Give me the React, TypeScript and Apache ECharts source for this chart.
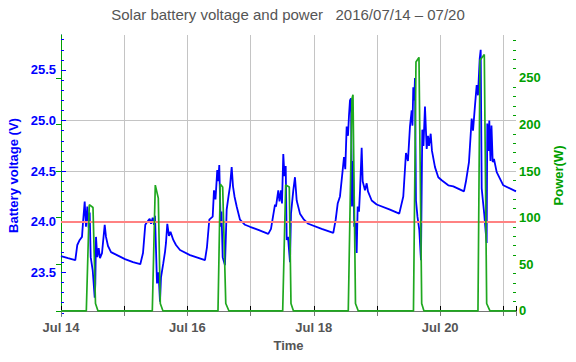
import React, { useEffect, useRef } from 'react';
import * as echarts from 'echarts';

const titleText = 'Solar battery voltage and power   2016/07/14 – 07/20';
const dayLabels = ['Jul 14', 'Jul 15', 'Jul 16', 'Jul 17', 'Jul 18', 'Jul 19', 'Jul 20', 'Jul 21'];
const shownDayLabels = ['Jul 14', 'Jul 16', 'Jul 18', 'Jul 20'];
const voltageTicks = [23.5, 24.0, 24.5, 25.0, 25.5];
const voltageMinorTicks = [23.1, 23.2, 23.3, 23.4, 23.6, 23.7, 23.8, 23.9, 24.1, 24.2, 24.3, 24.4, 24.6, 24.7, 24.8, 24.9, 25.1, 25.2, 25.3, 25.4, 25.6, 25.7, 25.8];
const powerTicks = [0, 50, 100, 150, 200, 250];
const powerMinorTicks = [10, 20, 30, 40, 60, 70, 80, 90, 110, 120, 130, 140, 160, 170, 180, 190, 210, 220, 230, 240, 260, 270, 280, 290];
const thresholdVoltage = 24.0;
const voltageRange = [23.068, 25.846];
const powerRange = [-5.4, 296];
const hourRange = [0, 172.8];

// hours since 2016-07-14 00:00
const voltageHours = [
  0.0, 2.66, 5.43, 6.19, 7.10, 7.97, 8.35, 9.00, 9.49, 9.99, 10.52, 10.90, 11.28, 12.04, 12.80, 13.03, 13.29, 13.78, 14.32, 14.81, 15.57, 16.60, 17.09, 17.85, 18.99, 21.27, 24.30, 27.34, 30.11,
  31.14, 32.01, 32.77, 33.68, 34.18, 34.82, 35.32, 35.70, 36.46, 37.03, 37.60, 37.98, 38.85, 39.49, 39.87, 40.37, 41.01, 41.58, 42.65, 43.67, 45.19, 48.99, 54.68,
  55.44, 56.32, 57.61, 58.10, 58.67, 59.35, 59.73, 60.11, 60.65, 60.95, 61.40, 62.28, 62.92, 63.61, 64.18, 64.82, 65.32, 65.89, 66.72, 67.98, 69.87, 71.77, 74.93, 78.72,
  79.75, 80.51, 81.27, 81.65, 82.52, 82.98, 83.55, 83.93, 84.42, 84.88, 85.34, 85.72, 86.21, 86.97, 87.35, 88.22, 88.86, 89.51, 90.76, 92.28, 93.91, 99.00, 103.41,
  104.32, 105.08, 105.95, 106.98, 107.47, 107.96, 108.49, 108.99, 109.37, 109.75, 110.13, 110.51, 110.89, 111.38, 111.84, 112.29, 112.67, 113.17, 113.55, 114.19, 114.57, 115.06, 115.44, 116.09, 116.58, 117.99, 119.89, 124.94, 128.47,
  129.99, 131.01, 131.77, 132.53, 133.18, 133.48, 133.79, 134.17, 134.43, 134.81, 135.38, 136.07, 136.71, 137.21, 137.66, 138.23, 138.88, 139.37, 139.75, 140.40, 140.89, 142.03, 143.28, 144.57, 147.08, 148.98, 153.04,
  153.80, 154.94, 155.97, 156.47, 157.23, 157.87, 158.36, 159.01, 159.39, 159.77, 160.26, 160.76, 161.29, 161.66, 161.89, 162.35, 162.66, 163.11, 163.49, 163.95, 164.44, 165.47, 167.97, 172.79,
];
const voltageValues = [
  23.66, 23.64, 23.62, 23.77, 23.82, 23.85, 23.99, 24.20, 23.95, 24.15, 23.94, 24.09, 23.65, 23.52, 23.25, 23.39, 23.85, 23.65, 23.74, 23.64, 23.69, 23.97, 23.85, 23.76, 23.70, 23.67, 23.63, 23.60, 23.58,
  23.69, 23.97, 24.00, 24.03, 23.98, 24.04, 23.97, 24.06, 23.39, 23.50, 23.21, 23.45, 23.59, 23.70, 23.79, 23.98, 23.86, 23.90, 23.82, 23.77, 23.72, 23.67, 23.62,
  23.75, 24.02, 24.05, 24.31, 24.22, 24.51, 24.40, 24.56, 23.95, 24.10, 23.65, 23.57, 24.12, 24.25, 24.35, 24.54, 24.35, 24.25, 24.15, 24.02, 23.97, 23.95, 23.92, 23.88,
  23.93, 24.05, 24.17, 24.15, 24.31, 24.20, 24.31, 24.18, 24.67, 24.45, 24.55, 23.82, 23.85, 23.60, 24.08, 24.31, 24.44, 24.21, 24.08, 24.02, 23.98, 23.93, 23.89,
  24.02, 24.18, 24.25, 24.51, 24.64, 24.52, 24.94, 24.85, 25.05, 25.20, 25.22, 24.15, 24.60, 23.95, 24.00, 23.69, 24.15, 24.10, 24.30, 24.73, 24.40, 24.35, 24.31, 24.38, 24.30, 24.21, 24.17, 24.12, 24.08,
  24.25, 24.68, 24.60, 24.94, 25.10, 24.95, 25.33, 25.20, 25.42, 24.21, 24.05, 23.92, 23.62, 24.91, 24.75, 25.14, 24.72, 24.85, 24.75, 24.87, 24.70, 24.54, 24.44, 24.41, 24.36, 24.35, 24.30,
  24.40, 24.59, 25.02, 24.90, 25.15, 25.35, 25.25, 25.61, 25.70, 24.33, 24.20, 24.07, 23.90, 23.79, 24.97, 24.70, 25.00, 24.60, 24.95, 24.59, 24.62, 24.49, 24.36, 24.30,
];
const powerHours = [
  0, 9.61, 10.75, 12.15, 13.10, 14.05,
  34.67, 35.81, 36.95, 37.71, 38.73,
  59.62, 60.49, 61.40, 62.58, 63.80,
  84.19, 85.33, 86.70, 87.34, 88.29,
  109.10, 110.51, 110.89, 111.84, 112.90,
  133.86, 134.81, 135.95, 136.98, 137.85,
  158.36, 159.12, 160.76, 161.66, 162.91,
  172.79,
];
const powerValues = [
  0, 0, 114, 111, 8, 0,
  0, 135, 121, 8, 0,
  0, 136, 133, 8, 0,
  0, 135, 133, 8, 0,
  0, 228, 232, 8, 0,
  0, 267, 272, 8, 0,
  0, 269, 275, 8, 0,
  0,
];

const FONT = '"Liberation Sans", Arial, Helvetica, sans-serif';
const BLUE = '#0000ff';
const GREEN_LINE = '#1fa81f';
const GREEN_TEXT = '#00a000';
const GRAY_TEXT = '#555555';

export default function App() {
  const ref = useRef<HTMLDivElement>(null);
  useEffect(() => {
    document.body.style.margin = '0';
    if (!ref.current) return;
    const chart = echarts.init(ref.current, undefined, { renderer: 'svg' });
    const voltageData = voltageHours.map((h, i) => [h, voltageValues[i]]);
    const powerData = powerHours.map((h, i) => [h, powerValues[i]]);
    const option: any = {
      animation: false,
      backgroundColor: '#ffffff',
      title: {
        text: titleText,
        left: 'center',
        top: 2,
        textStyle: { fontFamily: FONT, fontSize: 15, fontWeight: 'normal', color: GRAY_TEXT },
      },
      grid: { left: 61, right: 60, top: 35, bottom: 46, containLabel: false, outerBoundsMode: 'none' },
      xAxis: [
        {
          type: 'value',
          min: hourRange[0],
          max: hourRange[1],
          interval: 24,
          position: 'bottom',
          name: 'Time',
          nameLocation: 'middle',
          nameGap: 22,
          nameTextStyle: { fontFamily: FONT, fontSize: 13, fontWeight: 'bold', color: GRAY_TEXT },
          axisLine: { show: true, lineStyle: { color: '#000000', width: 1 } },
          axisTick: { show: true, inside: true, length: 5, lineStyle: { color: '#000000' } },
          axisLabel: {
            margin: 5,
            fontFamily: FONT,
            fontSize: 13,
            fontWeight: 'bold',
            color: GRAY_TEXT,
            showMinLabel: true,
            formatter: (v: number) => {
              const idx = Math.round(v / 24);
              if (Math.abs(v - idx * 24) > 0.01) return '';
              const name = dayLabels[idx];
              return shownDayLabels.indexOf(name) >= 0 ? name : '';
            },
          },
          splitLine: { show: true, showMinLine: false, showMaxLine: false, lineStyle: { color: '#c4c4c4', width: 1 } },
        },
        {
          type: 'value',
          min: hourRange[0],
          max: hourRange[1],
          interval: 24,
          position: 'top',
          axisLine: { show: true, lineStyle: { color: '#777777', width: 1 } },
          axisTick: { show: true, inside: true, length: 5, lineStyle: { color: '#777777' } },
          axisLabel: { show: false },
          splitLine: { show: false },
        },
      ],
      yAxis: [
        {
          type: 'value',
          min: voltageRange[0],
          max: voltageRange[1],
          position: 'left',
          name: 'Battery voltage (V)',
          nameLocation: 'middle',
          nameRotate: 90,
          nameGap: 33,
          nameTextStyle: { fontFamily: FONT, fontSize: 13, fontWeight: 'bold', color: BLUE },
          axisLine: { show: true, lineStyle: { color: BLUE, width: 1 } },
          axisTick: { show: true, inside: true, length: 5, customValues: voltageTicks, lineStyle: { color: BLUE } },
          axisLabel: {
            customValues: voltageTicks,
            margin: 5,
            fontFamily: FONT,
            fontSize: 13,
            fontWeight: 'bold',
            color: BLUE,
            formatter: (v: number) => v.toFixed(1),
          },
          splitLine: { show: true, showMinLine: false, showMaxLine: false, lineStyle: { color: '#c4c4c4', width: 1 } },
        },
        {
          type: 'value',
          min: powerRange[0],
          max: powerRange[1],
          position: 'right',
          name: 'Power(W)',
          nameLocation: 'middle',
          nameRotate: 90,
          nameGap: 27,
          nameTextStyle: { fontFamily: FONT, fontSize: 13, fontWeight: 'bold', color: GREEN_TEXT },
          axisLine: { show: true, lineStyle: { color: GREEN_TEXT, width: 1 } },
          axisTick: { show: true, inside: true, length: 5, customValues: powerTicks, lineStyle: { color: GREEN_TEXT } },
          axisLabel: {
            customValues: powerTicks,
            margin: 3,
            fontFamily: FONT,
            fontSize: 13,
            fontWeight: 'bold',
            color: GREEN_TEXT,
            formatter: (v: number) => String(Math.round(v)),
          },
          splitLine: { show: false },
        },
        {
          type: 'value',
          min: voltageRange[0],
          max: voltageRange[1],
          position: 'left',
          axisLine: { show: false },
          axisTick: { show: true, inside: true, length: 3, customValues: voltageMinorTicks, lineStyle: { color: BLUE } },
          axisLabel: { show: false },
          splitLine: { show: false },
        },
        {
          type: 'value',
          min: powerRange[0],
          max: powerRange[1],
          position: 'right',
          axisLine: { show: false },
          axisTick: { show: true, inside: true, length: 3, customValues: powerMinorTicks, lineStyle: { color: GREEN_TEXT } },
          axisLabel: { show: false },
          splitLine: { show: false },
        },
      ],
      series: [
        {
          type: 'line',
          name: 'Battery voltage',
          xAxisIndex: 0,
          yAxisIndex: 0,
          data: voltageData,
          showSymbol: false,
          symbol: 'none',
          lineStyle: { color: BLUE, width: 1.8 },
          z: 3,
          markLine: {
            silent: true,
            symbol: ['none', 'none'],
            label: { show: false },
            lineStyle: { color: '#ff8282', width: 2, type: 'solid' },
            data: [{ yAxis: thresholdVoltage }],
            z: 4,
          },
        },
        {
          type: 'line',
          name: 'Power',
          xAxisIndex: 0,
          yAxisIndex: 1,
          data: powerData,
          showSymbol: false,
          symbol: 'none',
          lineStyle: { color: GREEN_LINE, width: 1.7 },
          z: 5,
        },
      ],
    };
    chart.setOption(option);
    return () => chart.dispose();
  }, []);
  return <div ref={ref} style={{ width: 576, height: 362, position: 'absolute', left: 0, top: 0 }} />;
}
